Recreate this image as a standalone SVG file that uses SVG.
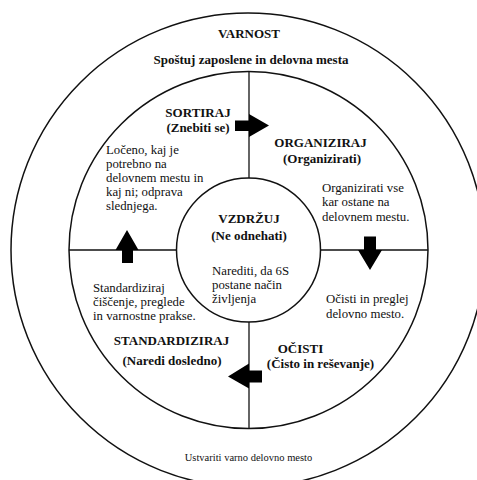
<svg xmlns="http://www.w3.org/2000/svg" width="477" height="480" viewBox="0 0 477 480">
<style>
.ring{fill:none;stroke:#111;stroke-width:1.5}
.div{stroke:#111;stroke-width:1.3;fill:none}
.arr{fill:#000;stroke:none}
text{font-family:"Liberation Serif","Times New Roman",serif;fill:#111}
.b{font-weight:bold;font-size:13px;text-anchor:middle}
.r{font-size:12.8px}
.s{font-size:10.5px;text-anchor:middle}
</style>
<rect width="477" height="480" fill="#fff"/>
<g id="outer">
<circle class="ring" cx="248" cy="250" r="237"/>
<text class="b" x="249" y="38">VARNOST</text>
<text class="b" x="251" y="64">Spoštuj zaposlene in delovna mesta</text>
<text class="s" x="248.5" y="461">Ustvariti varno delovno mesto</text>
</g>
<g id="middle">
<ellipse class="ring" cx="248.5" cy="250" rx="179.5" ry="178.5"/>
</g>
<g id="connectors">
<line class="div" x1="249" y1="71.5" x2="249" y2="178"/>
<line class="div" x1="249" y1="322" x2="249" y2="428.5"/>
<line class="div" x1="69" y1="250" x2="177" y2="250"/>
<line class="div" x1="320" y1="250" x2="428" y2="250"/>
<path class="arr" d="M235,120.5 H249 V114 L269,125.5 L249,137 V131 H235 Z"/>
<path class="arr" d="M364,236.5 H376 V250 H382 L370,270 L358,250 H364 Z"/>
<path class="arr" d="M262,370.5 H249 V363.5 L228,376.5 L249,388.5 V382.5 H262 Z"/>
<path class="arr" d="M122,263 H133 V250 H138.5 L127,230 L115.5,250 H122 Z"/>
</g>
<g id="sortiraj">
<text class="b" x="198" y="117">SORTIRAJ</text>
<text class="b" x="198" y="132">(Znebiti se)</text>
<text class="r" x="106" y="154">Ločeno, kaj je</text>
<text class="r" x="106" y="168">potrebno na</text>
<text class="r" x="106" y="182">delovnem mestu in</text>
<text class="r" x="106" y="196">kaj ni; odprava</text>
<text class="r" x="106" y="210">slednjega.</text>
</g>
<g id="organiziraj">
<text class="b" x="320.5" y="147">ORGANIZIRAJ</text>
<text class="b" x="322" y="163">(Organizirati)</text>
<text class="r" x="322" y="192">Organizirati vse</text>
<text class="r" x="322" y="206">kar ostane na</text>
<text class="r" x="322" y="221">delovnem mestu.</text>
</g>
<g id="vzdrzuj">
<circle class="ring" cx="248.5" cy="250" r="72"/>
<text class="b" x="249" y="223">VZDRŽUJ</text>
<text class="b" x="249" y="240">(Ne odnehati)</text>
<text class="r" x="212" y="275">Narediti, da 6S</text>
<text class="r" x="212" y="289">postane način</text>
<text class="r" x="212" y="303">življenja</text>
</g>
<g id="ocisti">
<text class="r" x="326" y="303">Očisti in preglej</text>
<text class="r" x="326" y="318">delovno mesto.</text>
<text class="b" x="300.5" y="353">OČISTI</text>
<text class="b" x="320.5" y="368">(Čisto in reševanje)</text>
</g>
<g id="standardiziraj">
<text class="r" x="93" y="292">Standardiziraj</text>
<text class="r" x="93" y="306">čiščenje, preglede</text>
<text class="r" x="93" y="320">in varnostne prakse.</text>
<text class="b" x="171.5" y="345">STANDARDIZIRAJ</text>
<text class="b" x="172" y="365">(Naredi dosledno)</text>
</g>
</svg>
